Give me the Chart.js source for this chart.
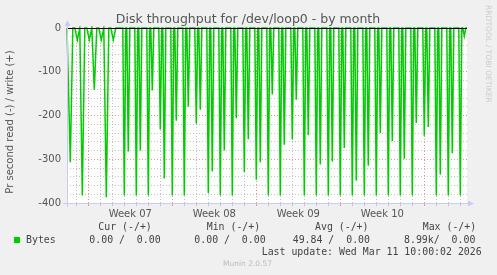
<!DOCTYPE html>
<html>
<head>
<meta charset="utf-8">
<script src="https://cdn.jsdelivr.net/npm/chart.js@4.4.1/dist/chart.umd.min.js"></script>
<style>
body { margin: 0; background: #f0f0f0; }
#wrap { position: relative; width: 497px; height: 275px; overflow: hidden; font-family: "DejaVu Sans"; color: #555; }
canvas { position: absolute; left: 0; top: 0; }
.t { position: absolute; white-space: pre; line-height: 1; }
.mono { font-family: "DejaVu Sans Mono"; font-size: 9.9px; color: #444; top: 0; }
</style>
</head>
<body>
<div id="wrap">
<canvas id="chart" width="497" height="275"></canvas>

<div class="t" style="left:0;width:496px;text-align:center;top:13.4px;font-size:12.5px;">Disk throughput for /dev/loop0 - by month</div>
<div class="t" style="left:-90px;width:200px;text-align:center;top:117px;font-size:10px;transform:rotate(-90deg);">Pr second read (-) / write (+)</div>
<div class="t" style="left:484.5px;top:5px;font-size:7.6px;writing-mode:vertical-rl;color:#cccccc;">RRDTOOL / TOBI OETIKER</div>

<div class="t mono" style="left:98.3px;top:222.1px;">Cur (-/+)</div>
<div class="t mono" style="left:206.7px;top:222.1px;">Min (-/+)</div>
<div class="t mono" style="left:315px;top:222.1px;">Avg (-/+)</div>
<div class="t mono" style="left:422.7px;top:222.1px;">Max (-/+)</div>

<div style="position:absolute;left:14px;top:237px;width:6px;height:6px;background:#00cc00;"></div>
<div class="t mono" style="left:26px;top:234.6px;">Bytes</div>
<div class="t mono" style="left:89.3px;top:234.6px;">0.00 /  0.00</div>
<div class="t mono" style="left:194.3px;top:234.6px;">0.00 /  0.00</div>
<div class="t mono" style="left:292.7px;top:234.6px;">49.84 /  0.00</div>
<div class="t mono" style="left:404px;top:234.6px;">8.99k/  0.00</div>

<div class="t mono" style="left:261.7px;top:246.6px;">Last update: Wed Mar 11 10:00:02 2026</div>
<div class="t" style="left:223px;top:259.6px;font-size:7.5px;color:#bbb;">Munin 2.0.57</div>
</div>

<script>
// hours are counted from monday 00:00 of week 07
const hourMin = -42.6;
const hourMax = 757.4;

const weekLabels = ["Week 07", "Week 08", "Week 09", "Week 10"];

// first days: read spikes (bytes/s) on the older, coarser data
const earlyHours = [-36, -22, -12, 2, 12, 26, 36, 50];
const earlyReads = [307, 27, 383, 27, 141, 27, 387, 27];

// after that: one spike at midnight and one at 08:00 every day
const days = [3, 4, 5, 6, 7, 8, 9, 10, 11, 12, 13, 14, 15, 16, 17, 18, 19, 20, 21, 22, 23, 24, 25, 26, 27, 28, 29, 30, 31];
const midnightReads = [383, 383, 383, 232, 383, 383, 219, 377, 383, 383, 329, 347, 383, 383, 255, 383, 383, 383, 383, 383, 383, 383, 383, 383, 383, 246, 383, 383, 383];
const morningReads = [282, 280, 143, 344, 212, 180, 187, 328, 280, 206, 254, 307, 152, 267, 164, 245, 312, 305, 274, 349, 315, 240, 258, 299, 217, 226, 335, 286, 18];

// ================= SERIE =================

const puntos = [{ x: hourMin, y: 0 }];

function spike(h, v, w)
{
    puntos.push({ x: h - w, y: 0 }, { x: h, y: -v }, { x: h + w, y: 0 });
}

earlyHours.forEach((h, i) => spike(h, earlyReads[i], 5));

days.forEach((d, i) => {
    spike(d * 24, midnightReads[i], 3);
    spike(d * 24 + 8, morningReads[i], 3);
});

puntos.push({ x: hourMax, y: 0 });
puntos.sort((a, b) => a.x - b.x);

// ================= PLUGINS =================

const fondo = {
    id: "fondo",
    beforeDraw(chart)
    {
        const a = chart.chartArea;
        const ctx = chart.ctx;
        ctx.save();
        ctx.fillStyle = "#ffffff";
        ctx.fillRect(a.left, a.top, a.right - a.left, a.bottom - a.top);
        ctx.restore();
    }
};

const ejes = {
    id: "ejes",
    afterDraw(chart)
    {
        const a = chart.chartArea;
        const ctx = chart.ctx;
        const y0 = Math.round(chart.scales.y.getPixelForValue(0)) + 0.5;

        ctx.save();

        // zero line
        ctx.strokeStyle = "#000000";
        ctx.lineWidth = 1;
        ctx.beginPath();
        ctx.moveTo(a.left, y0);
        ctx.lineTo(a.right, y0);
        ctx.stroke();

        // axes with arrows
        const col = "#c8ccf2";
        ctx.strokeStyle = col;
        ctx.fillStyle = col;
        ctx.beginPath();
        ctx.moveTo(a.left - 4, a.bottom + 0.5);
        ctx.lineTo(a.right + 3, a.bottom + 0.5);
        ctx.moveTo(a.left + 0.5, a.bottom + 4);
        ctx.lineTo(a.left + 0.5, a.top - 3);
        ctx.stroke();

        ctx.beginPath();
        ctx.moveTo(a.right + 1, a.bottom - 2.5);
        ctx.lineTo(a.right + 7, a.bottom + 0.5);
        ctx.lineTo(a.right + 1, a.bottom + 3.5);
        ctx.fill();

        ctx.beginPath();
        ctx.moveTo(a.left - 2.5, a.top - 2);
        ctx.lineTo(a.left + 0.5, a.top - 8);
        ctx.lineTo(a.left + 3.5, a.top - 2);
        ctx.fill();

        ctx.restore();
    }
};

// ================= GRAFICA =================

const rojo = "rgba(230, 110, 110, 0.75)";
const gris = "rgba(190, 190, 190, 0.9)";

new Chart(document.getElementById("chart"), {
    type: "line",
    data: {
        datasets: [
            {
                label: "Bytes",
                data: puntos,
                borderColor: "#00cc00",
                borderWidth: 1.5,
                pointRadius: 0,
                tension: 0,
                fill: false,
                clip: 2
            }
        ]
    },
    options: {
        responsive: false,
        animation: false,
        devicePixelRatio: 1,
        layout: { padding: { left: 0, top: 28, right: 30, bottom: 52 } },
        plugins: { legend: { display: false }, tooltip: { enabled: false } },
        scales: {
            x: {
                type: "linear",
                min: hourMin,
                max: hourMax,
                afterFit: s => { s.height = 20; },
                afterBuildTicks: s => {
                    const t = [];
                    for (let h = -24; h <= 744; h += 24) t.push({ value: h });
                    weekLabels.forEach((w, i) => t.push({ value: 84 + 168 * i }));
                    t.sort((p, q) => p.value - q.value);
                    s.ticks = t;
                },
                grid: {
                    color: c => c.tick.value % 24 !== 0 ? "rgba(0,0,0,0)" : (c.tick.value % 168 === 0 ? rojo : gris),
                    tickColor: c => c.tick.value % 24 !== 0 ? "rgba(0,0,0,0)" : (c.tick.value % 168 === 0 ? rojo : gris),
                    lineWidth: 1,
                    drawTicks: true,
                    tickLength: 3
                },
                border: { display: false, dash: [1, 2] },
                ticks: {
                    autoSkip: false,
                    maxRotation: 0,
                    padding: 2,
                    color: "#555",
                    font: { family: "DejaVu Sans", size: 10 },
                    callback: v => {
                        const i = weekLabels.findIndex((w, k) => 84 + 168 * k === v);
                        return i >= 0 ? weekLabels[i] : "";
                    }
                }
            },
            y: {
                min: -400,
                max: 0,
                afterFit: s => { s.width = 67; },
                afterBuildTicks: s => {
                    const t = [];
                    for (let v = -400; v <= 0; v += 20) t.push({ value: v });
                    s.ticks = t;
                },
                grid: {
                    color: c => c.tick.value % 100 === 0 ? rojo : gris,
                    lineWidth: 1,
                    drawTicks: false
                },
                border: { display: false, dash: [1, 2] },
                ticks: {
                    autoSkip: false,
                    padding: 6,
                    color: "#555",
                    font: { family: "DejaVu Sans", size: 10 },
                    callback: v => v % 100 === 0 ? String(v) : ""
                }
            }
        }
    },
    plugins: [fondo, ejes]
});
</script>
</body>
</html>
